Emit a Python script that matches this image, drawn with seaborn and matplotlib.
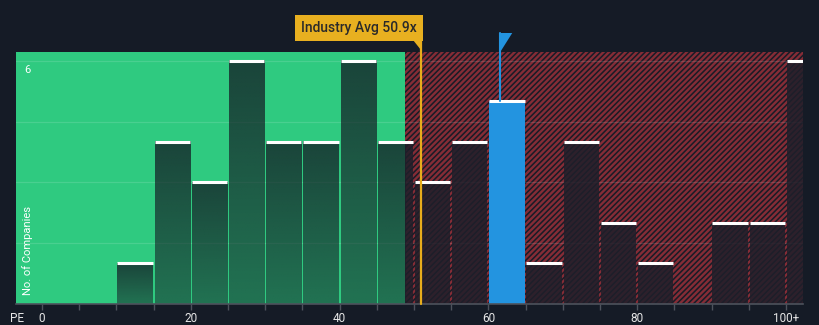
import numpy as np
import pandas as pd
import matplotlib
matplotlib.use("Agg")
import matplotlib.pyplot as plt
import seaborn as sns
from matplotlib.patches import Rectangle, Polygon

# ---- data ----
bin_left = [10, 15, 20, 25, 30, 35, 40, 45, 50, 55, 60, 65, 70, 75, 80, 85, 90, 95, 100]
counts = [1, 4, 3, 6, 4, 4, 6, 4, 3, 4, 5, 1, 4, 2, 1, 0, 2, 2, 6]
tick_values = [0, 20, 40, 60, 80, 100]
tick_labels = ["0", "20", "40", "60", "80", "100+"]
industry_avg = 50.9
fair_value = 48.8
company_pe = 61.6
company_bin = 60

BG = "#151b26"
GREEN = "#2fca80"
RED = "#852c36"
BLUE = "#2394e0"

sns.set_theme(style="dark")
plt.rcParams["font.family"] = ["Roboto", "DejaVu Sans"]
plt.rcParams["hatch.linewidth"] = 1.7
plt.rcParams["hatch.color"] = RED

fig = plt.figure(figsize=(8.2, 3.25), dpi=100, facecolor=BG)
ax = fig.add_axes([16 / 820, 21 / 325, 787 / 820, 252 / 325])
ax.set_facecolor(BG)

xmin, xmax = -3.5, 102.3
ymin, ymax = 0, 6.22

df = pd.DataFrame({"center": [b + 2.5 for b in bin_left], "count": counts})
sns.barplot(data=df, x="center", y="count", native_scale=True, width=0.95,
            color="white", ax=ax, zorder=2)
bars = list(ax.patches)

ax.set_xlim(xmin, xmax)
ax.set_ylim(ymin, ymax)

# regions
ax.axvspan(xmin, fair_value, facecolor=GREEN, edgecolor="none", zorder=0)
ax.axvspan(fair_value, xmax, facecolor="#181c27", edgecolor=RED, hatch="//////",
           linewidth=0, zorder=0)

# grid
for gy in [1.5, 3, 4.5, 6]:
    ax.axhline(gy, color="white", alpha=0.13, linewidth=0.9, zorder=0.5)

grad = np.linspace(0.5, 0.76, 64).reshape(-1, 1)  # bottom -> top alpha
for p, b, c in zip(bars, bin_left, counts):
    x0, w, h = p.get_x(), p.get_width(), p.get_height()
    if b == company_bin:
        p.set_facecolor(BLUE)
        p.set_edgecolor("none")
    else:
        p.set_facecolor((0, 0, 0, 0))
        p.set_edgecolor("none")
        if h > 0:
            gx1 = min(x0 + w, fair_value)
            if gx1 > x0:
                rgba = np.zeros((64, 1, 4))
                rgba[..., 0] = 20 / 255
                rgba[..., 1] = 26 / 255
                rgba[..., 2] = 36 / 255
                rgba[..., 3] = grad
                ax.imshow(rgba, extent=(x0, gx1, 0, h), origin="lower",
                          aspect="auto", zorder=2.5, interpolation="bilinear")
            rx0 = max(x0, fair_value)
            if x0 + w > rx0:
                ax.add_patch(Rectangle((rx0, 0), x0 + w - rx0, h, facecolor="#1e1f2a",
                                       alpha=0.85, edgecolor="none", zorder=2.5))
    if h > 0:
        ax.plot([x0, x0 + w], [h, h], color="white", linewidth=2.2,
                solid_capstyle="butt", zorder=4, clip_on=True)

ax.set_xlim(xmin, xmax)
ax.set_ylim(ymin, ymax)
ax.set_aspect("auto")

# industry average line and label
px_y = (ymax - ymin) / 252.0
px_x = (xmax - xmin) / 787.0
ax.plot([industry_avg, industry_avg], [0, ymax + 12 * px_y], color="#e8ad1c",
        linewidth=1.6, zorder=5, clip_on=False)
fig.text(359 / 820, (325 - 28) / 325, "Industry Avg 50.9x", ha="center", va="center",
         fontsize=10, color="#2a2a2a", fontweight="medium",
         bbox=dict(boxstyle="square,pad=0.45", facecolor="#e8b020", edgecolor="none"))
ax.add_patch(Polygon([[industry_avg - 8 * px_x, ymax + 12 * px_y],
                      [industry_avg + 0.2 * px_x, ymax + 12 * px_y],
                      [industry_avg + 0.2 * px_x, ymax + 2 * px_y]],
                     closed=True, facecolor="#e8b020", edgecolor="none",
                     clip_on=False, zorder=5))

# company flag
ax.plot([company_pe, company_pe], [counts[bin_left.index(company_bin)], ymax + 19 * px_y],
        color=BLUE, linewidth=1.5, zorder=5, clip_on=False)
ax.add_patch(Polygon([[company_pe, ymax + 19 * px_y],
                      [company_pe + 12 * px_x, ymax + 19 * px_y],
                      [company_pe, ymax]],
                     closed=True, facecolor=BLUE, edgecolor="none",
                     clip_on=False, zorder=5))

# axes styling
for s in ["top", "right", "left"]:
    ax.spines[s].set_visible(False)
ax.spines["bottom"].set_color("#4d525c")
ax.spines["bottom"].set_linewidth(1.2)
ax.set_xticks(tick_values)
ax.set_xticklabels(tick_labels)
ax.set_xticks(np.arange(0, 101, 5), minor=True)
ax.tick_params(axis="x", which="both", length=4, width=1, color="#4d525c",
               labelsize=8.5, labelcolor="#e6e6e6", pad=2, bottom=True)
ax.set_yticks([])
ax.set_xlabel("")
ax.set_ylabel("")
ax.grid(False)

ax.text(-2.0, 6 - 4 * px_y, "6", ha="center", va="top", fontsize=8,
        color="white", zorder=6)
ax.text(-1.9, 0.22, "No. of Companies", rotation=90, ha="center", va="bottom",
        fontsize=8, color="white", zorder=6)
fig.text(17 / 820, (325 - 319) / 325, "PE", ha="center", va="center",
         fontsize=8.5, color="#e6e6e6")

fig.savefig("out.png", dpi=100, facecolor=BG)
